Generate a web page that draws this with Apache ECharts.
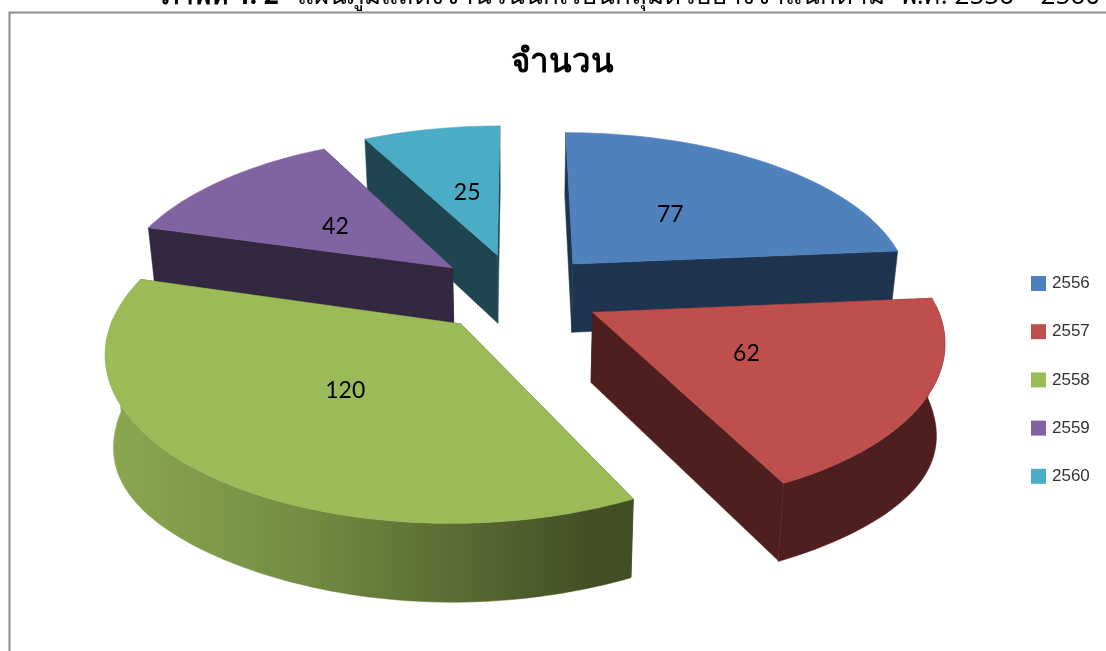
<!DOCTYPE html>
<html><head><meta charset="utf-8">
<style>html,body{margin:0;padding:0;background:#fff}#c{width:1106px;height:651px}</style>
<script src="https://cdn.jsdelivr.net/npm/echarts@6/dist/echarts.min.js"></script>
</head><body><div id="c"></div>
<script>
const categories = ['2556','2557','2558','2559','2560'];
const values = [77,62,120,42,25];
const topColors = ['#4F81BD','#BE4F4D','#9BBB59','#8064A2','#4BACC6'];
const wallColors = ['#1F344F','#4F1F1F','#424F24','#33283F','#1E4550'];
const titleText = 'จำนวน';
const headerBold = 'ภาพที่ 4. 2';
const headerMiddle = 'แผนภูมิแสดงจำนวนนักเรียนกลุ่มตัวอย่างจำแนกตาม';
const headerEnd = 'พ.ศ. 2556 – 2560';

// projection of the tilted, exploded pie
const cam = {cx:517, cy:292.5, R:340, Q:159, k:0.15, e:0.25, H:69.5, baseX:0.98, baseY:0.975, bulge:22};
function proj(x,y,bottom){
  const s = 1/(1-cam.k*y);
  if(!bottom) return [cam.cx+cam.R*x*s, cam.cy+cam.Q*y*s];
  return [cam.cx+cam.baseX*cam.R*x*s, cam.cy+cam.baseY*cam.Q*y*s+cam.H*s];
}
const total = values.reduce((a,b)=>a+b,0);
function sliceAngles(i){
  let a=0; for(let j=0;j<i;j++) a+=values[j];
  return [a/total*2*Math.PI,(a+values[i])/total*2*Math.PI];
}
function dir(t){return [Math.sin(t),-Math.cos(t)];}
const labelNudge = [[0,0],[4,2],[-1,2],[-4,2],[3,1]];

function renderSlice(i){
  return function(params,api){
    const [a0,a1]=sliceAngles(i), m=(a0+a1)/2, d=dir(m);
    const ox=cam.e*d[0], oy=cam.e*d[1];
    const n=Math.max(8,Math.round((a1-a0)*40));
    const top=[],bot=[],rimBot=[];
    for(let k=0;k<=n;k++){
      const t=a0+(a1-a0)*k/n, u=dir(t);
      top.push(proj(ox+u[0],oy+u[1],false));
      const b=proj(ox+u[0],oy+u[1],true);
      bot.push(b);
      rimBot.push([b[0],b[1]+cam.bulge*Math.pow(Math.sin(t),4)]);
    }
    const A=proj(ox,oy,false), B=proj(ox,oy,true);
    const wall=wallColors[i], kids=[];
    const poly=(pts,fill)=>({type:'polygon',shape:{points:pts},style:{fill:fill,stroke:fill,lineWidth:0.5}});
    kids.push(poly([A,top[0],bot[0],B],wall));
    kids.push(poly([A,top[n],bot[n],B],wall));
    let rimFill=wall;
    if(i===2){
      rimFill=new echarts.graphic.LinearGradient(0,0,1,0,[
        {offset:0,color:'#8BA850'},{offset:0.35,color:'#748F44'},{offset:0.7,color:'#566830'},{offset:0.92,color:'#424F24'},{offset:1,color:'#424F24'}]);
    }
    const rim=[];
    for(let k=0;k<=n;k++){
      const t=a0+(a1-a0)*k/n;
      if(Math.cos(t)<0.05) rim.push(k);
    }
    if(rim.length>1){
      const pts=[];
      rim.forEach(k=>pts.push(top[k]));
      rim.slice().reverse().forEach(k=>pts.push(rimBot[k]));
      kids.push(poly(pts,rimFill));
    }
    kids.push(poly([A].concat(top),topColors[i]));
    const md=0.47, L=proj(ox+d[0]*md,oy+d[1]*md,false);
    kids.push({type:'text',style:{text:String(api.value(0)),x:L[0]+labelNudge[i][0],y:L[1]+labelNudge[i][1],
      font:'23px Lato, "Noto Sans", sans-serif',fill:'#000',align:'center',verticalAlign:'middle'}});
    return {type:'group',children:kids};
  };
}
const drawOrder=[4,3,0,1,2];
const series=drawOrder.map(i=>({
  type:'custom',name:categories[i],coordinateSystem:'none',
  itemStyle:{color:topColors[i]},
  data:[[values[i]]],renderItem:renderSlice(i),silent:true,animation:false
}));
const chart=echarts.init(document.getElementById('c'),null,{renderer:'canvas'});
chart.setOption({
  animation:false,backgroundColor:'#fff',
  title:{text:titleText,left:557,top:41,textAlign:'center',
    textStyle:{fontFamily:'"Noto Sans",sans-serif',fontSize:33,fontWeight:'bold',color:'#000'}},
  legend:{orient:'vertical',left:1026,top:270,itemWidth:15,itemHeight:15,itemGap:31.2,icon:'rect',
    data:categories,selectedMode:false,
    textStyle:{fontFamily:'"Liberation Sans",sans-serif',fontSize:17,color:'#333',padding:[0,0,0,1]}},
  graphic:[
    {type:'rect',silent:true,shape:{x:9.5,y:12.5,width:1120,height:660},style:{fill:'none',stroke:'#8c8c8c',lineWidth:2}},
    {type:'text',silent:true,style:{text:headerBold,x:162,y:-16,font:'bold 26px "Noto Sans",sans-serif',fill:'#000'}},
    {type:'text',silent:true,style:{text:headerMiddle,x:297,y:-16,font:'26px "Noto Sans",sans-serif',fill:'#000'}},
    {type:'text',silent:true,style:{text:headerEnd,x:1100,y:-16,align:'right',font:'26px "Noto Sans",sans-serif',fill:'#000'}}
  ],
  series:series
});
</script></body></html>
